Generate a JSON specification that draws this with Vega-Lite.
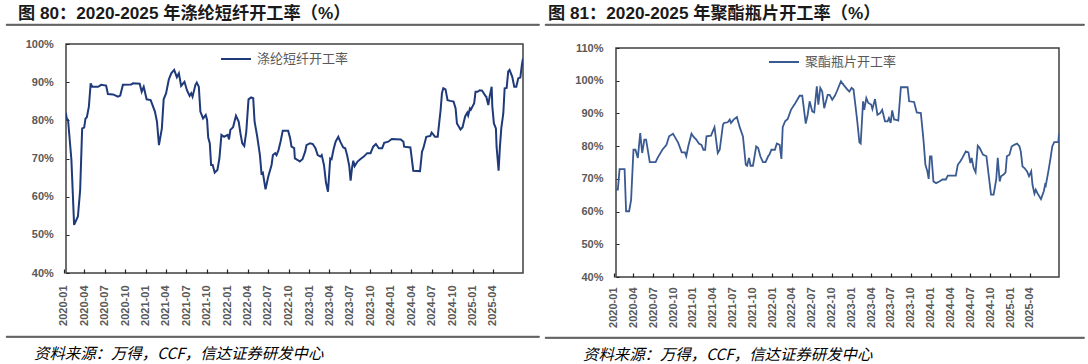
{
  "$schema": "https://vega.github.io/schema/vega-lite/v6.json",
  "background": "white",
  "padding": {"left": 5, "top": 4, "right": 0, "bottom": 0},
  "config": {"view": {"stroke": null}, "font": "Noto Sans CJK SC"},
  "resolve": {"scale": {"x": "independent", "y": "independent", "color": "independent"}, "legend": {"color": "independent"}, "axis": {"x": "independent", "y": "independent"}},
  "spacing": 4,
  "hconcat": [
    {
      "spacing": 7,
      "resolve": {"scale": {"color": "independent"}, "legend": {"color": "independent"}},
      "vconcat": [
        {
          "width": 533, "height": 1,
          "data": {"values": [{}]},
          "mark": {"type": "text"},
          "encoding": {"text": {"value": ""}},
          "view": {"stroke": "#222222", "strokeWidth": 0.8},
          "title": {"text": "图 80：2020-2025 年涤纶短纤开工率（%）", "anchor": "start", "frame": "group", "dx": 12, "offset": -4, "font": "Liberation Sans, Noto Sans CJK SC", "fontSize": 17.2, "fontWeight": "bold", "color": "#1a1a1a"}
        },
        {
          "spacing": 3,
          "resolve": {"scale": {"color": "independent"}, "legend": {"color": "independent"}},
          "vconcat": [
            {
              "spacing": 0,
              "resolve": {"scale": {"color": "independent"}, "legend": {"color": "independent"}},
              "hconcat": [
                {
                  "width": 0.01, "height": 0.01,
                  "data": {"values": [{}]},
                  "mark": {"type": "text"},
                  "encoding": {"text": {"value": ""}}
                },
                {
                  "width": 457, "height": 229,
                  "view": {"stroke": "#404040", "strokeWidth": 1.5},
                  "data": {"values": [
                    {"date":"2020-01-10","rate":82.0},{"date":"2020-01-14","rate":80.5},{"date":"2020-01-20","rate":80.1},{"date":"2020-02-04","rate":69.6},{"date":"2020-02-16","rate":52.6},{"date":"2020-03-04","rate":54.8},{"date":"2020-03-14","rate":61.7},{"date":"2020-03-23","rate":77.9},{"date":"2020-04-01","rate":78.1},{"date":"2020-04-07","rate":80.5},{"date":"2020-04-13","rate":80.8},{"date":"2020-04-22","rate":83.6},{"date":"2020-04-30","rate":89.7},{"date":"2020-05-07","rate":88.8},{"date":"2020-06-02","rate":88.8},{"date":"2020-06-16","rate":89.3},{"date":"2020-07-08","rate":89.1},{"date":"2020-07-16","rate":86.9},{"date":"2020-08-08","rate":86.8},{"date":"2020-08-30","rate":86.2},{"date":"2020-09-09","rate":86.5},{"date":"2020-09-21","rate":89.3},{"date":"2020-10-28","rate":89.4},{"date":"2020-11-05","rate":89.7},{"date":"2020-12-05","rate":89.6},{"date":"2020-12-14","rate":87.5},{"date":"2020-12-23","rate":88.8},
                    {"date":"2021-01-05","rate":85.5},{"date":"2021-01-23","rate":85.3},{"date":"2021-02-11","rate":82.3},{"date":"2021-02-20","rate":79.7},{"date":"2021-03-01","rate":73.5},{"date":"2021-03-14","rate":77.9},{"date":"2021-03-22","rate":85.5},{"date":"2021-04-02","rate":87.1},{"date":"2021-04-14","rate":90.7},{"date":"2021-04-25","rate":92.3},{"date":"2021-05-08","rate":93.2},{"date":"2021-05-20","rate":91.3},{"date":"2021-05-29","rate":92.3},{"date":"2021-06-08","rate":89.0},{"date":"2021-06-23","rate":90.1},{"date":"2021-07-04","rate":87.9},{"date":"2021-07-16","rate":86.4},{"date":"2021-07-23","rate":87.1},{"date":"2021-07-29","rate":86.2},{"date":"2021-08-11","rate":89.3},{"date":"2021-08-17","rate":89.9},{"date":"2021-08-26","rate":88.8},{"date":"2021-09-02","rate":82.3},{"date":"2021-09-14","rate":80.5},{"date":"2021-09-26","rate":81.4},{"date":"2021-10-02","rate":80.1},{"date":"2021-10-07","rate":75.5},{"date":"2021-10-14","rate":74.0},{"date":"2021-10-20","rate":68.3},{"date":"2021-10-27","rate":68.3},{"date":"2021-11-05","rate":66.3},{"date":"2021-11-17","rate":67.0},{"date":"2021-11-26","rate":70.0},{"date":"2021-12-05","rate":76.2},{"date":"2021-12-17","rate":75.7},
                    {"date":"2022-01-02","rate":76.2},{"date":"2022-01-08","rate":75.0},{"date":"2022-01-14","rate":77.5},{"date":"2022-01-26","rate":78.2},{"date":"2022-02-08","rate":81.2},{"date":"2022-02-20","rate":79.7},{"date":"2022-02-28","rate":76.6},{"date":"2022-03-08","rate":74.0},{"date":"2022-03-17","rate":73.3},{"date":"2022-03-26","rate":77.0},{"date":"2022-04-05","rate":85.5},{"date":"2022-04-17","rate":86.0},{"date":"2022-04-26","rate":85.8},{"date":"2022-05-02","rate":79.7},{"date":"2022-05-14","rate":75.7},{"date":"2022-05-26","rate":70.9},{"date":"2022-06-02","rate":66.1},{"date":"2022-06-08","rate":66.3},{"date":"2022-06-20","rate":61.9},{"date":"2022-07-02","rate":65.2},{"date":"2022-07-17","rate":68.3},{"date":"2022-07-23","rate":70.9},{"date":"2022-08-02","rate":71.4},{"date":"2022-08-08","rate":70.9},{"date":"2022-08-17","rate":72.2},{"date":"2022-08-26","rate":74.4},{"date":"2022-09-05","rate":77.3},{"date":"2022-09-29","rate":77.3},{"date":"2022-10-08","rate":75.3},{"date":"2022-10-14","rate":73.1},{"date":"2022-10-26","rate":72.7},{"date":"2022-10-29","rate":70.0},{"date":"2022-11-11","rate":69.6},{"date":"2022-11-20","rate":69.2},{"date":"2022-12-02","rate":69.8},{"date":"2022-12-14","rate":71.8},{"date":"2022-12-20","rate":73.5},
                    {"date":"2023-01-05","rate":74.0},{"date":"2023-01-17","rate":73.8},{"date":"2023-01-29","rate":72.7},{"date":"2023-02-08","rate":70.9},{"date":"2023-02-20","rate":70.5},{"date":"2023-02-26","rate":70.9},{"date":"2023-03-08","rate":68.3},{"date":"2023-03-17","rate":63.7},{"date":"2023-03-26","rate":61.3},{"date":"2023-04-05","rate":70.0},{"date":"2023-04-11","rate":69.8},{"date":"2023-04-20","rate":72.4},{"date":"2023-04-29","rate":74.4},{"date":"2023-05-11","rate":75.7},{"date":"2023-05-20","rate":74.4},{"date":"2023-06-02","rate":72.9},{"date":"2023-06-11","rate":72.7},{"date":"2023-06-20","rate":70.7},{"date":"2023-06-29","rate":68.0},{"date":"2023-07-05","rate":64.2},{"date":"2023-07-11","rate":67.4},{"date":"2023-07-17","rate":69.4},{"date":"2023-07-23","rate":68.0},{"date":"2023-08-05","rate":69.2},{"date":"2023-08-17","rate":69.8},{"date":"2023-09-02","rate":70.5},{"date":"2023-09-17","rate":71.4},{"date":"2023-10-02","rate":71.4},{"date":"2023-10-14","rate":73.1},{"date":"2023-10-26","rate":73.8},{"date":"2023-11-08","rate":72.7},{"date":"2023-11-23","rate":72.7},{"date":"2023-12-02","rate":74.1},{"date":"2023-12-20","rate":74.4},
                    {"date":"2024-01-05","rate":75.1},{"date":"2024-02-14","rate":75.0},{"date":"2024-02-26","rate":74.4},{"date":"2024-02-29","rate":73.1},{"date":"2024-03-28","rate":72.9},{"date":"2024-04-10","rate":66.8},{"date":"2024-05-10","rate":66.7},{"date":"2024-05-19","rate":71.8},{"date":"2024-05-25","rate":72.7},{"date":"2024-06-07","rate":75.7},{"date":"2024-06-25","rate":75.9},{"date":"2024-07-01","rate":76.8},{"date":"2024-07-07","rate":76.4},{"date":"2024-07-16","rate":75.7},{"date":"2024-07-28","rate":75.7},{"date":"2024-08-10","rate":82.7},{"date":"2024-08-16","rate":87.1},{"date":"2024-08-22","rate":88.4},{"date":"2024-09-01","rate":88.1},{"date":"2024-09-10","rate":85.3},{"date":"2024-09-22","rate":85.1},{"date":"2024-10-07","rate":84.9},{"date":"2024-10-16","rate":83.1},{"date":"2024-10-22","rate":79.2},{"date":"2024-11-01","rate":78.2},{"date":"2024-11-07","rate":77.6},{"date":"2024-11-16","rate":78.2},{"date":"2024-11-22","rate":79.7},{"date":"2024-11-28","rate":81.1},{"date":"2024-12-07","rate":82.0},{"date":"2024-12-11","rate":81.3},{"date":"2024-12-19","rate":83.1},{"date":"2024-12-23","rate":82.8},
                    {"date":"2025-01-07","rate":84.5},{"date":"2025-01-13","rate":87.5},{"date":"2025-01-22","rate":87.5},{"date":"2025-02-01","rate":87.9},{"date":"2025-02-11","rate":87.8},{"date":"2025-02-26","rate":86.4},{"date":"2025-03-02","rate":86.2},{"date":"2025-03-11","rate":84.0},{"date":"2025-03-17","rate":86.2},{"date":"2025-03-26","rate":88.8},{"date":"2025-03-29","rate":83.6},{"date":"2025-04-05","rate":79.2},{"date":"2025-04-14","rate":77.9},{"date":"2025-04-17","rate":73.1},{"date":"2025-04-26","rate":66.8},{"date":"2025-05-02","rate":73.1},{"date":"2025-05-08","rate":77.9},{"date":"2025-05-17","rate":81.8},{"date":"2025-05-23","rate":88.4},{"date":"2025-06-01","rate":88.5},{"date":"2025-06-08","rate":92.8},{"date":"2025-06-14","rate":93.2},{"date":"2025-06-26","rate":91.4},{"date":"2025-07-05","rate":88.8},{"date":"2025-07-14","rate":88.8},{"date":"2025-07-23","rate":91.0},{"date":"2025-08-01","rate":91.2},{"date":"2025-08-08","rate":94.5},{"date":"2025-08-13","rate":96.2}
                  ]},
                  "mark": {"type": "line", "strokeWidth": 2, "clip": true},
                  "encoding": {
                    "x": {"field": "date", "type": "temporal",
                      "scale": {"domain": [{"year": 2020, "month": 1, "date": 1}, {"year": 2025, "month": 8, "date": 13}], "range": [-2.2, 457]},
                      "axis": {"title": null, "format": "%Y-%m", "labelAngle": -90, "grid": false, "domain": false, "tickSize": -4, "tickColor": "#222222", "tickWidth": 1.2, "labelPadding": 16, "labelFont": "Liberation Sans", "labelFontWeight": "bold", "labelFontSize": 11, "labelColor": "#595959", "labelOverlap": false, "labelFlush": false, "labelBound": false,
                        "values": [{"year":2020,"month":1,"date":1},{"year":2020,"month":4,"date":1},{"year":2020,"month":7,"date":1},{"year":2020,"month":10,"date":1},{"year":2021,"month":1,"date":1},{"year":2021,"month":4,"date":1},{"year":2021,"month":7,"date":1},{"year":2021,"month":10,"date":1},{"year":2022,"month":1,"date":1},{"year":2022,"month":4,"date":1},{"year":2022,"month":7,"date":1},{"year":2022,"month":10,"date":1},{"year":2023,"month":1,"date":1},{"year":2023,"month":4,"date":1},{"year":2023,"month":7,"date":1},{"year":2023,"month":10,"date":1},{"year":2024,"month":1,"date":1},{"year":2024,"month":4,"date":1},{"year":2024,"month":7,"date":1},{"year":2024,"month":10,"date":1},{"year":2025,"month":1,"date":1},{"year":2025,"month":4,"date":1}]}},
                    "y": {"field": "rate", "type": "quantitative",
                      "scale": {"domain": [40, 100], "nice": false, "zero": false},
                      "axis": {"title": null, "values": [40, 50, 60, 70, 80, 90, 100], "labelExpr": "datum.value + '%'", "grid": false, "domain": false, "tickSize": -3, "tickColor": "#222222", "labelPadding": 15.7, "labelFont": "Liberation Sans", "labelFontWeight": "bold", "labelFontSize": 11, "labelColor": "#595959", "minExtent": 58}},
                    "color": {"datum": "涤纶短纤开工率", "type": "nominal", "scale": {"range": ["#1f3a7a"]},
                      "legend": {"title": null, "orient": "none", "legendX": 154, "legendY": -1, "padding": 0, "symbolType": "stroke", "symbolSize": 900, "symbolStrokeWidth": 2, "labelFont": "Noto Sans CJK SC", "labelFontSize": 13, "labelColor": "#595959", "labelOffset": 5}}
                  }
                }
              ]
            },
            {
              "width": 533, "height": 1,
              "data": {"values": [{}]},
              "mark": {"type": "text"},
              "encoding": {"text": {"value": ""}},
              "view": {"stroke": "#222222", "strokeWidth": 0.8},
              "title": {"text": "资料来源：万得，CCF，信达证券研发中心", "orient": "bottom", "anchor": "start", "frame": "group", "dx": 28, "offset": 5, "font": "Noto Sans CJK SC", "fontSize": 15.4, "fontStyle": "italic", "fontWeight": "normal", "color": "#000000"}
            }
          ]
        }
      ]
    },
    {
      "spacing": 11,
      "resolve": {"scale": {"color": "independent"}, "legend": {"color": "independent"}},
      "vconcat": [
        {
          "width": 539, "height": 1,
          "data": {"values": [{}]},
          "mark": {"type": "text"},
          "encoding": {"text": {"value": ""}},
          "view": {"stroke": "#222222", "strokeWidth": 0.8},
          "title": {"text": "图 81：2020-2025 年聚酯瓶片开工率（%）", "anchor": "start", "frame": "group", "dx": 3, "offset": -4, "font": "Liberation Sans, Noto Sans CJK SC", "fontSize": 17.2, "fontWeight": "bold", "color": "#1a1a1a"}
        },
        {
          "spacing": 2,
          "resolve": {"scale": {"color": "independent"}, "legend": {"color": "independent"}},
          "vconcat": [
            {
              "spacing": 0,
              "resolve": {"scale": {"color": "independent"}, "legend": {"color": "independent"}},
              "hconcat": [
                {
                  "width": 0.01, "height": 0.01,
                  "data": {"values": [{}]},
                  "mark": {"type": "text"},
                  "encoding": {"text": {"value": ""}}
                },
                {
                  "width": 443, "height": 229,
                  "view": {"stroke": "#404040", "strokeWidth": 1.5},
                  "data": {"values": [
                    {"date":"2020-01-11","rate":66.7},{"date":"2020-01-21","rate":66.7},{"date":"2020-01-29","rate":73.0},{"date":"2020-02-21","rate":73.0},{"date":"2020-02-28","rate":60.1},{"date":"2020-03-13","rate":60.1},{"date":"2020-03-22","rate":63.6},{"date":"2020-04-02","rate":78.9},{"date":"2020-04-11","rate":78.9},{"date":"2020-04-22","rate":76.4},{"date":"2020-05-03","rate":84.0},{"date":"2020-05-12","rate":77.9},{"date":"2020-05-22","rate":82.0},{"date":"2020-05-30","rate":82.0},{"date":"2020-06-16","rate":75.1},{"date":"2020-07-13","rate":75.1},{"date":"2020-07-22","rate":76.4},{"date":"2020-08-13","rate":78.9},{"date":"2020-09-01","rate":80.4},{"date":"2020-09-13","rate":83.0},{"date":"2020-10-01","rate":83.8},{"date":"2020-10-08","rate":83.0},{"date":"2020-10-25","rate":81.0},{"date":"2020-11-10","rate":78.1},{"date":"2020-11-25","rate":78.1},{"date":"2020-12-01","rate":76.9},{"date":"2020-12-10","rate":79.9},{"date":"2020-12-25","rate":83.8},
                    {"date":"2021-01-04","rate":82.8},{"date":"2021-01-16","rate":82.0},{"date":"2021-01-28","rate":80.8},{"date":"2021-02-09","rate":80.4},{"date":"2021-02-18","rate":78.9},{"date":"2021-02-26","rate":78.9},{"date":"2021-03-04","rate":83.0},{"date":"2021-03-25","rate":83.2},{"date":"2021-04-02","rate":84.5},{"date":"2021-04-10","rate":85.8},{"date":"2021-04-25","rate":77.9},{"date":"2021-05-04","rate":78.9},{"date":"2021-05-19","rate":86.6},{"date":"2021-05-25","rate":87.1},{"date":"2021-06-10","rate":87.3},{"date":"2021-06-19","rate":88.1},{"date":"2021-06-25","rate":87.1},{"date":"2021-07-07","rate":88.1},{"date":"2021-07-22","rate":88.9},{"date":"2021-08-04","rate":85.8},{"date":"2021-08-19","rate":83.0},{"date":"2021-09-01","rate":74.3},{"date":"2021-09-07","rate":74.0},{"date":"2021-09-16","rate":76.4},{"date":"2021-09-23","rate":74.0},{"date":"2021-10-04","rate":74.0},{"date":"2021-10-19","rate":79.9},{"date":"2021-10-28","rate":79.4},{"date":"2021-11-07","rate":76.9},{"date":"2021-11-19","rate":75.1},{"date":"2021-12-01","rate":75.1},{"date":"2021-12-13","rate":76.9},{"date":"2021-12-19","rate":77.4},{"date":"2021-12-28","rate":78.9},
                    {"date":"2022-01-13","rate":78.9},{"date":"2022-01-22","rate":80.8},{"date":"2022-02-04","rate":80.4},{"date":"2022-02-12","rate":76.1},{"date":"2022-02-18","rate":85.8},{"date":"2022-03-01","rate":87.6},{"date":"2022-03-13","rate":88.3},{"date":"2022-03-28","rate":91.1},{"date":"2022-04-13","rate":92.7},{"date":"2022-04-22","rate":93.7},{"date":"2022-05-07","rate":95.4},{"date":"2022-05-19","rate":95.4},{"date":"2022-06-04","rate":86.9},{"date":"2022-06-13","rate":89.6},{"date":"2022-06-22","rate":93.7},{"date":"2022-07-04","rate":90.6},{"date":"2022-07-13","rate":90.3},{"date":"2022-07-25","rate":98.3},{"date":"2022-08-01","rate":92.7},{"date":"2022-08-10","rate":97.8},{"date":"2022-08-19","rate":96.7},{"date":"2022-08-28","rate":91.6},{"date":"2022-09-13","rate":95.7},{"date":"2022-09-22","rate":95.7},{"date":"2022-10-04","rate":94.2},{"date":"2022-10-16","rate":95.4},{"date":"2022-10-25","rate":96.7},{"date":"2022-11-13","rate":99.8},{"date":"2022-11-28","rate":98.5},{"date":"2022-12-13","rate":97.3},{"date":"2022-12-22","rate":96.7},
                    {"date":"2023-01-01","rate":97.8},{"date":"2023-01-10","rate":97.3},{"date":"2023-01-22","rate":90.6},{"date":"2023-01-28","rate":87.1},{"date":"2023-02-06","rate":81.2},{"date":"2023-02-12","rate":80.8},{"date":"2023-02-23","rate":93.7},{"date":"2023-02-28","rate":91.1},{"date":"2023-03-10","rate":94.7},{"date":"2023-03-19","rate":93.2},{"date":"2023-04-01","rate":92.7},{"date":"2023-04-07","rate":91.3},{"date":"2023-04-19","rate":94.4},{"date":"2023-04-30","rate":89.6},{"date":"2023-05-13","rate":90.1},{"date":"2023-05-22","rate":91.1},{"date":"2023-06-04","rate":87.6},{"date":"2023-06-16","rate":87.6},{"date":"2023-06-22","rate":88.6},{"date":"2023-06-30","rate":87.1},{"date":"2023-07-07","rate":90.9},{"date":"2023-07-16","rate":88.1},{"date":"2023-07-22","rate":88.1},{"date":"2023-08-04","rate":87.8},{"date":"2023-08-16","rate":98.0},{"date":"2023-09-16","rate":98.0},{"date":"2023-09-23","rate":93.7},{"date":"2023-10-16","rate":93.5},{"date":"2023-10-28","rate":90.3},{"date":"2023-11-16","rate":90.1},{"date":"2023-11-28","rate":82.0},{"date":"2023-12-07","rate":74.3},{"date":"2023-12-16","rate":72.3},{"date":"2023-12-22","rate":70.0},{"date":"2023-12-28","rate":76.9},
                    {"date":"2024-01-04","rate":76.9},{"date":"2024-01-13","rate":69.2},{"date":"2024-01-25","rate":68.7},{"date":"2024-02-09","rate":69.2},{"date":"2024-02-24","rate":69.8},{"date":"2024-03-10","rate":69.8},{"date":"2024-03-19","rate":71.0},{"date":"2024-04-25","rate":71.0},{"date":"2024-05-04","rate":74.3},{"date":"2024-05-16","rate":75.4},{"date":"2024-05-25","rate":76.4},{"date":"2024-06-10","rate":78.4},{"date":"2024-06-22","rate":78.1},{"date":"2024-07-01","rate":74.8},{"date":"2024-07-07","rate":76.4},{"date":"2024-07-16","rate":73.3},{"date":"2024-07-25","rate":72.0},{"date":"2024-08-04","rate":80.1},{"date":"2024-08-13","rate":79.4},{"date":"2024-08-28","rate":77.4},{"date":"2024-09-13","rate":76.9},{"date":"2024-09-22","rate":71.8},{"date":"2024-10-04","rate":65.2},{"date":"2024-10-16","rate":65.2},{"date":"2024-10-28","rate":69.8},{"date":"2024-11-04","rate":76.4},{"date":"2024-11-13","rate":69.2},{"date":"2024-11-19","rate":70.8},{"date":"2024-12-01","rate":71.3},{"date":"2024-12-10","rate":72.0},{"date":"2024-12-16","rate":76.9},{"date":"2024-12-28","rate":77.4},
                    {"date":"2025-01-07","rate":79.9},{"date":"2025-01-19","rate":80.4},{"date":"2025-02-01","rate":80.8},{"date":"2025-02-12","rate":79.9},{"date":"2025-02-18","rate":78.4},{"date":"2025-02-26","rate":73.8},{"date":"2025-03-07","rate":73.3},{"date":"2025-03-19","rate":72.3},{"date":"2025-03-28","rate":70.8},{"date":"2025-04-07","rate":72.3},{"date":"2025-04-13","rate":68.2},{"date":"2025-04-22","rate":65.5},{"date":"2025-04-28","rate":66.7},{"date":"2025-05-05","rate":65.7},{"date":"2025-05-22","rate":63.8},{"date":"2025-06-04","rate":66.2},{"date":"2025-06-10","rate":68.2},{"date":"2025-06-13","rate":67.9},{"date":"2025-06-25","rate":72.3},{"date":"2025-07-04","rate":75.9},{"date":"2025-07-13","rate":79.9},{"date":"2025-07-22","rate":81.2},{"date":"2025-08-10","rate":81.2},{"date":"2025-08-13","rate":84.0}
                  ]},
                  "mark": {"type": "line", "strokeWidth": 1.8, "clip": true},
                  "encoding": {
                    "x": {"field": "date", "type": "temporal",
                      "scale": {"domain": [{"year": 2020, "month": 1, "date": 1}, {"year": 2025, "month": 8, "date": 13}], "range": [-2.5, 443]},
                      "axis": {"title": null, "format": "%Y-%m", "labelAngle": -90, "grid": false, "domain": false, "tickSize": -4, "tickColor": "#222222", "tickWidth": 1.2, "labelPadding": 14, "labelFont": "Liberation Sans", "labelFontWeight": "bold", "labelFontSize": 11, "labelColor": "#595959", "labelOverlap": false, "labelFlush": false, "labelBound": false,
                        "values": [{"year":2020,"month":1,"date":1},{"year":2020,"month":4,"date":1},{"year":2020,"month":7,"date":1},{"year":2020,"month":10,"date":1},{"year":2021,"month":1,"date":1},{"year":2021,"month":4,"date":1},{"year":2021,"month":7,"date":1},{"year":2021,"month":10,"date":1},{"year":2022,"month":1,"date":1},{"year":2022,"month":4,"date":1},{"year":2022,"month":7,"date":1},{"year":2022,"month":10,"date":1},{"year":2023,"month":1,"date":1},{"year":2023,"month":4,"date":1},{"year":2023,"month":7,"date":1},{"year":2023,"month":10,"date":1},{"year":2024,"month":1,"date":1},{"year":2024,"month":4,"date":1},{"year":2024,"month":7,"date":1},{"year":2024,"month":10,"date":1},{"year":2025,"month":1,"date":1},{"year":2025,"month":4,"date":1}]}},
                    "y": {"field": "rate", "type": "quantitative",
                      "scale": {"domain": [40, 110], "nice": false, "zero": false},
                      "axis": {"title": null, "values": [40, 50, 60, 70, 80, 90, 100, 110], "labelExpr": "datum.value + '%'", "grid": false, "domain": false, "tickSize": -3, "tickColor": "#222222", "labelPadding": 16, "labelFont": "Liberation Sans", "labelFontWeight": "bold", "labelFontSize": 11, "labelColor": "#595959", "minExtent": 69}},
                    "color": {"datum": "聚酯瓶片开工率", "type": "nominal", "scale": {"range": ["#3a5a92"]},
                      "legend": {"title": null, "orient": "none", "legendX": 152, "legendY": -2, "padding": 0, "symbolType": "stroke", "symbolSize": 900, "symbolStrokeWidth": 2, "labelFont": "Noto Sans CJK SC", "labelFontSize": 13, "labelColor": "#595959", "labelOffset": 5}}
                  }
                }
              ]
            },
            {
              "width": 539, "height": 1,
              "data": {"values": [{}]},
              "mark": {"type": "text"},
              "encoding": {"text": {"value": ""}},
              "view": {"stroke": "#222222", "strokeWidth": 0.8},
              "title": {"text": "资料来源：万得，CCF，信达证券研发中心", "orient": "bottom", "anchor": "start", "frame": "group", "dx": 38, "offset": 5, "font": "Noto Sans CJK SC", "fontSize": 15.4, "fontStyle": "italic", "fontWeight": "normal", "color": "#000000"}
            }
          ]
        }
      ]
    }
  ]
}
